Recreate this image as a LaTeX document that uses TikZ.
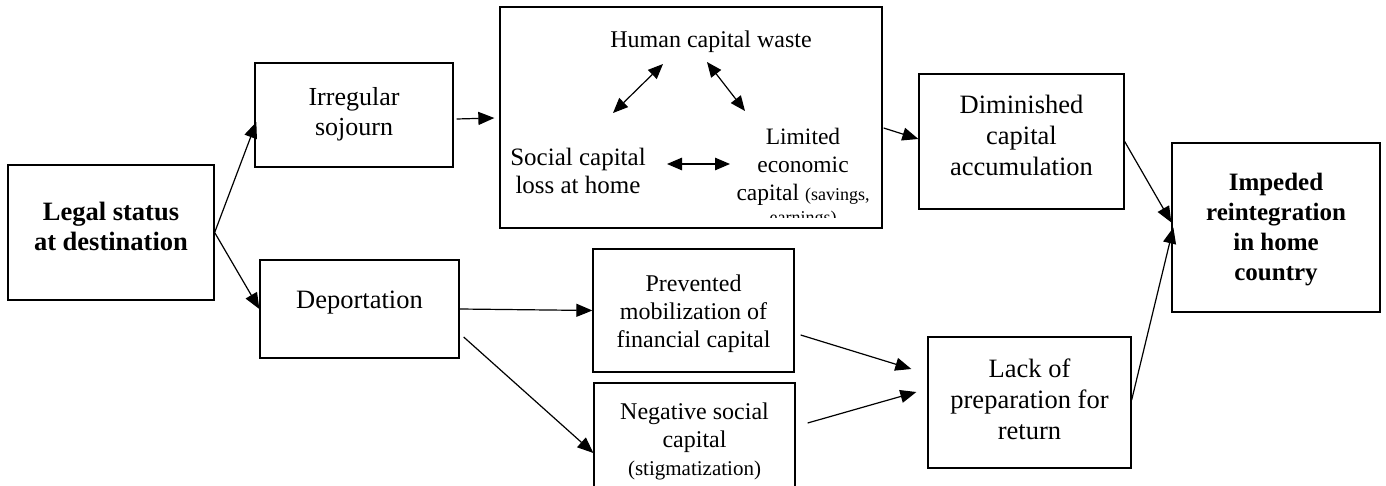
\documentclass[tikz,border=0pt]{standalone}
\usepackage{fontspec}
\setmainfont{Liberation Serif}
\usetikzlibrary{arrows.meta}
\tikzset{
  boxnode/.style={draw, line width=1.3pt, inner sep=0pt, rectangle},
  txt/.style={align=center, inner sep=0pt},
  arr/.style={line width=1.2pt, -{Triangle[length=16pt,width=13pt]}},
  darr/.style={line width=1.2pt, {Triangle[length=15pt,width=12.5pt]}-{Triangle[length=15pt,width=12.5pt]}}
}
\newcommand{\fs}[2]{\fontsize{#1}{#2}\selectfont}
\begin{document}
\begin{tikzpicture}[x=1pt,y=-1pt]
\clip (0,0) rectangle (1386,486);
\fill[white] (0,0) rectangle (1386,486);
% boxes
\node[boxnode, minimum width=206pt, minimum height=135pt] (legal) at (111,232.5) {};
\node[boxnode, minimum width=198pt, minimum height=104pt] (irr) at (354,115) {};
\node[boxnode, minimum width=199pt, minimum height=98pt] (dep) at (359.5,309) {};
\node[boxnode, minimum width=382pt, minimum height=221pt] (big) at (691,117.5) {};
\node[boxnode, minimum width=205pt, minimum height=135pt] (dim) at (1021.5,141.5) {};
\node[boxnode, minimum width=208pt, minimum height=169pt] (imp) at (1276,227.5) {};
\node[boxnode, minimum width=201pt, minimum height=123pt] (prev) at (693.5,310.5) {};
\node[boxnode, minimum width=201pt, minimum height=117pt] (neg) at (694.5,441.5) {};
\node[boxnode, minimum width=203pt, minimum height=131pt] (lack) at (1029.5,402.5) {};
% texts
\node[txt, font=\fs{26.5}{30}\bfseries] (legalt) at (111,226) {Legal status\\at destination};
\node[txt, font=\fs{26}{30}] (irrt) at (354,114) {Irregular\\sojourn};
\node[txt, font=\fs{26.5}{30}] (dept) at (359.5,303) {Deportation};
\node[txt, font=\fs{24}{28}] (hum) at (711,42) {Human capital waste};
\node[txt, font=\fs{25}{28}] (soc) at (578,171) {Social capital\\loss at home};
\begin{scope}
\clip (730,100) rectangle (880,218);
\node[txt, font=\fs{23.5}{28}, anchor=north] (lim) at (803,128) {Limited\\economic\\capital {\fs{18}{28}(savings,}\\[-5pt]{\fs{18}{22}earnings)}};
\end{scope}
\node[txt, font=\fs{26.5}{31}] (dimt) at (1021.5,135) {Diminished\\capital\\accumulation};
\node[txt, font=\fs{25}{30}\bfseries] (impt) at (1276,230) {Impeded\\reintegration\\in home\\country};
\node[txt, font=\fs{24}{28}] (prevt) at (693.5,314) {Prevented\\mobilization of\\financial capital};
\node[txt, font=\fs{24}{28}] (negt) at (694.5,441) {Negative social\\capital\\{\fs{21}{24}(stigmatization)}};
\node[txt, font=\fs{26.5}{31}] (lackt) at (1029.5,399) {Lack of\\preparation for\\return};
% internal arrows
\draw[darr] ([shift={(35pt,58pt)}]soc.center) -- ([shift={(-48pt,-22pt)}]hum.center);
\draw[darr] ([shift={(-4pt,-20pt)}]hum.center) -- (745,111);
\draw[darr] ([shift={(89pt,7pt)}]soc.center) -- (730,164);
% outer arrows
\draw[arr] (legal.east) -- ([shift={(2pt,-7pt)}]irr.west);
\draw[arr] (legal.east) -- (dep.west);
\draw[arr] ([shift={(3pt,-4pt)}]irr.east) -- ([shift={(-5pt,-0.5pt)}]big.west);
\draw[arr] ([shift={(1pt,-10.5pt)}]big.east) -- ([yshift=2.5pt]dim.west);
\draw[arr] (dim.east) -- ([yshift=5pt]imp.west);
\draw[arr] ([yshift=2.5pt]lack.east) -- ([xshift=2pt]imp.west);
\draw[arr] (dep.east) -- (prev.west);
\draw[arr] ([shift={(4pt,-28pt)}]dep.east) -- ([yshift=-11.5pt]neg.west);
\draw[arr] ([shift={(6pt,-24.5pt)}]prev.east) -- ([shift={(-16pt,33.5pt)}]lack.west);
\draw[arr] ([shift={(12pt,18.5pt)}]neg.east) -- ([shift={(-11pt,10.5pt)}]lack.west);
\end{tikzpicture}
\end{document}
